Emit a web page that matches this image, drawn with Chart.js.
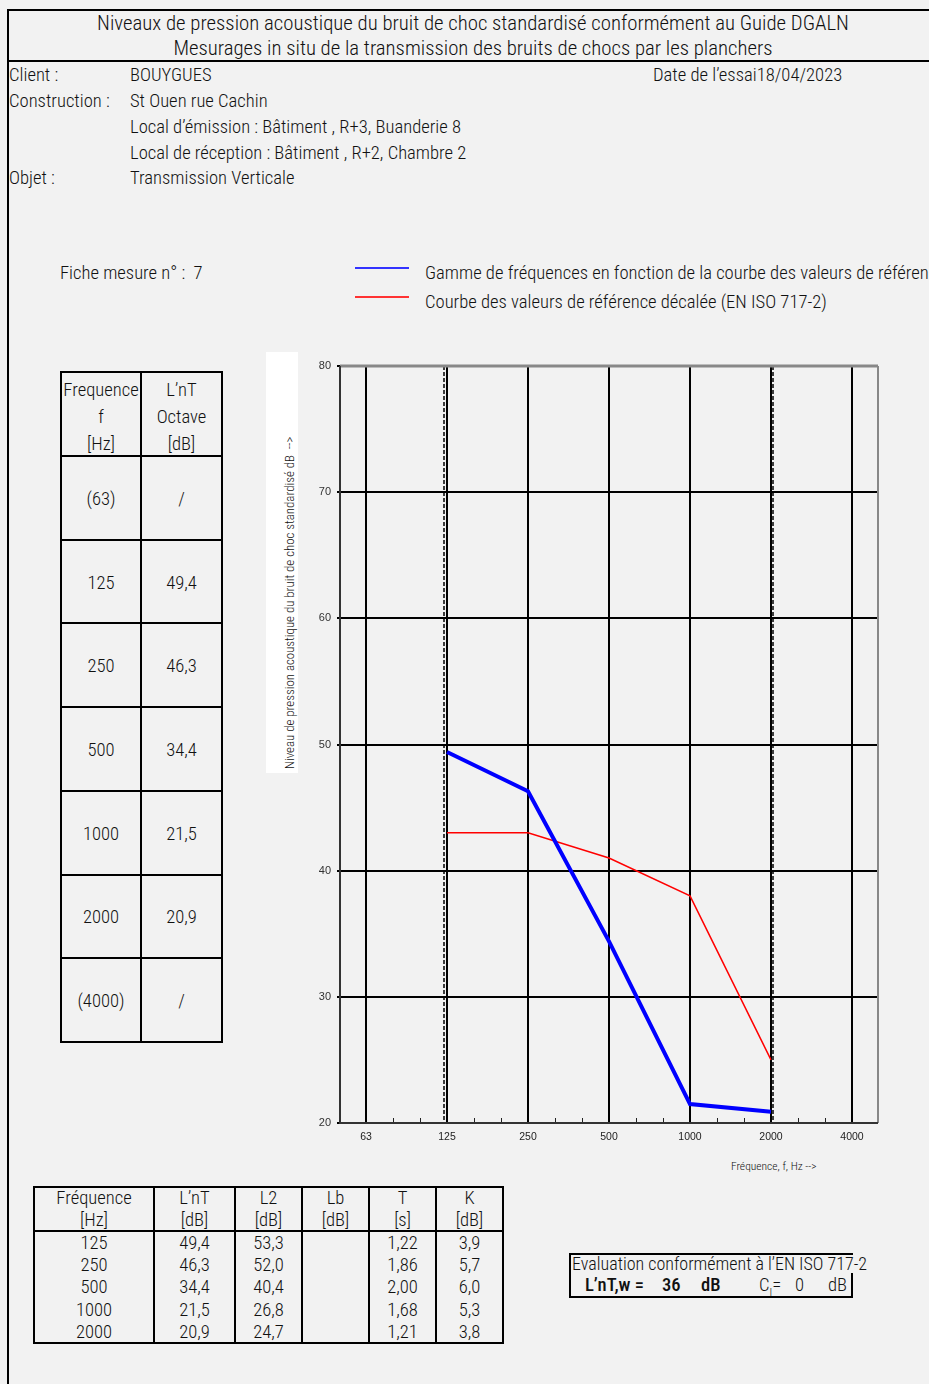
<!DOCTYPE html>
<html lang="fr">
<head>
<meta charset="utf-8">
<title>Niveaux de pression acoustique du bruit de choc</title>
<script src="https://cdn.jsdelivr.net/npm/chart.js@4/dist/chart.umd.min.js"></script>
<style>
  html, body { margin: 0; padding: 0; background: #f2f2f2; }
  body { width: 929px; height: 1384px; position: relative; overflow: hidden;
         font-family: "Roboto Condensed", "Liberation Sans Narrow", "Arial Narrow", "DejaVu Sans Condensed", sans-serif;
         font-stretch: condensed; font-weight: 300; color: #111; }
  .t { position: absolute; white-space: nowrap; font-size: 18.6px; line-height: 20px; }
  .h { font-size: 20.8px; }
  .c { transform: translateX(-50%); }
  .ln { position: absolute; background: #000; }
  .ylab { position: absolute; font-size: 12.9px; line-height: 13px; white-space: nowrap;
          transform-origin: 0 0; transform: rotate(-90deg); }
  #chartBox { position: absolute; left: 300px; top: 340px; width: 590px; height: 813px; }
</style>
</head>
<body>

<!-- frame -->
<div class="ln" style="left:7px;top:9px;width:922px;height:2px"></div>
<div class="ln" style="left:7px;top:60px;width:922px;height:2px"></div>
<div class="ln" style="left:7px;top:9px;width:2px;height:1375px"></div>

<div class="t h c" style="left:473px;top:13px">Niveaux de pression acoustique du bruit de choc standardisé conformément au Guide DGALN</div>
<div class="t h c" style="left:473px;top:38px">Mesurages in situ de la transmission des bruits de chocs par les planchers</div>

<div class="t" style="left:9px;top:65px">Client :</div>
<div class="t" style="left:130px;top:65px">BOUYGUES</div>
<div class="t" style="left:653px;top:65px">Date de l’essai18/04/2023</div>
<div class="t" style="left:9px;top:91px">Construction :</div>
<div class="t" style="left:130px;top:91px">St Ouen rue Cachin</div>
<div class="t" style="left:130px;top:117px">Local d’émission : Bâtiment , R+3, Buanderie 8</div>
<div class="t" style="left:130px;top:143px">Local de réception : Bâtiment , R+2, Chambre 2</div>
<div class="t" style="left:9px;top:168px">Objet :</div>
<div class="t" style="left:130px;top:168px">Transmission Verticale</div>

<div class="t" style="left:60px;top:263px">Fiche mesure n° :&nbsp; 7</div>

<!-- legend -->
<div id="legend"></div>

<!-- octave table (left) -->
<div id="octTable"></div>

<!-- axis titles -->
<div style="position:absolute;left:266px;top:352px;width:32px;height:421px;background:#fff"></div>
<div class="ylab" style="left:283px;top:769px">Niveau de pression acoustique du bruit de choc standardisé dB&nbsp; --&gt;</div>
<div class="t" style="left:731px;top:1158px;font-size:11.5px;line-height:16px">Fréquence, f, Hz --&gt;</div>

<div id="chartBox"><canvas id="chart" width="590" height="813"></canvas></div>

<!-- measurement table (bottom) -->
<div id="measTable"></div>

<!-- rating box -->
<div class="ln" style="left:569px;top:1253px;width:284px;height:2px"></div>
<div class="ln" style="left:569px;top:1253px;width:2px;height:45px"></div>
<div class="ln" style="left:569px;top:1296px;width:284px;height:2px"></div>
<div class="ln" style="left:851px;top:1273px;width:2px;height:25px"></div>
<div class="t" style="left:572px;top:1254px;font-size:18px">Evaluation conformément à l’EN ISO 717-2</div>
<div class="t" style="left:585px;top:1275px;font-weight:500">L’nT,w =</div>
<div class="t" style="left:662px;top:1275px;font-weight:500" id="ratingVal"></div>
<div class="t" style="left:701px;top:1275px;font-weight:500">dB</div>
<div class="t" style="left:759px;top:1275px">C<sub style="font-size:11px;line-height:0">I</sub>=</div>
<div class="t" style="left:795px;top:1275px" id="ciVal"></div>
<div class="t" style="left:828px;top:1275px">dB</div>

<script>
// Octave band centre frequencies shown on the x axis
const freqLabels = ['63', '125', '250', '500', '1000', '2000', '4000'];
// Standardised impact sound pressure level L'nT per octave (null = not measured)
const lntValues = [null, 49.4, 46.3, 34.4, 21.5, 20.9, null];
// ISO 717-2 reference curve shifted to the rating position
const refShifted = [null, 43, 43, 41, 38, 25, null];
// y axis graduations
const yTicks = [20, 30, 40, 50, 60, 70, 80];

// Measurement detail table
const measFreq = ['125', '250', '500', '1000', '2000'];
const measLnT = ['49,4', '46,3', '34,4', '21,5', '20,9'];
const measL2 = ['53,3', '52,0', '40,4', '26,8', '24,7'];
const measLb = ['', '', '', '', ''];
const measT = ['1,22', '1,86', '2,00', '1,68', '1,21'];
const measK = ['3,9', '5,7', '6,0', '5,3', '3,8'];

// Single-number rating
const ratingLnTw = 36;
const ratingCI = 0;

// Legend entries
const legendItems = [
  { text: 'Gamme de fréquences en fonction de la courbe des valeurs de référence (EN ISO 717-2)', color: '#3333ff' },
  { text: 'Courbe des valeurs de référence décalée (EN ISO 717-2)', color: '#ff3333' }
];

const fmt = v => v === null ? '/' : v.toFixed(1).replace('.', ',');

// ---- legend
(function () {
  const box = document.getElementById('legend');
  legendItems.forEach((it, i) => {
    const y = 267 + i * 29;
    box.insertAdjacentHTML('beforeend',
      `<div class="ln" style="left:355px;top:${y}px;width:54px;height:2px;background:${it.color}"></div>` +
      `<div class="t" style="left:425px;top:${y - 4}px">${it.text}</div>`);
  });
})();

// ---- left octave table
(function () {
  const box = document.getElementById('octTable');
  const x0 = 61, xm = 141, x1 = 222, yTop = 372, headH = 84, rowH = 83.7;
  let h = '';
  const nRows = freqLabels.length;
  const yBot = yTop + headH + nRows * rowH;
  [x0, xm, x1].forEach(x => {
    h += `<div class="ln" style="left:${x - 1}px;top:${yTop - 1}px;width:2px;height:${yBot - yTop + 2}px"></div>`;
  });
  h += `<div class="ln" style="left:${x0 - 1}px;top:${yTop - 1}px;width:${x1 - x0 + 2}px;height:2px"></div>`;
  for (let r = 0; r <= nRows; r++) {
    const y = Math.round(yTop + headH + r * rowH);
    h += `<div class="ln" style="left:${x0 - 1}px;top:${y - 1}px;width:${x1 - x0 + 2}px;height:2px"></div>`;
  }
  const cx0 = (x0 + xm) / 2, cx1 = (xm + x1) / 2;
  [['Frequence', 'L’nT'], ['f', 'Octave'], ['[Hz]', '[dB]']].forEach((pair, i) => {
    const y = 389 + i * 27 - 9;
    h += `<div class="t c" style="left:${cx0}px;top:${y}px">${pair[0]}</div>`;
    h += `<div class="t c" style="left:${cx1}px;top:${y}px">${pair[1]}</div>`;
  });
  freqLabels.forEach((f, i) => {
    const y = Math.round(yTop + headH + (i + 0.5) * rowH) - 9;
    const label = lntValues[i] === null ? `(${f})` : f;
    h += `<div class="t c" style="left:${cx0}px;top:${y}px">${label}</div>`;
    h += `<div class="t c" style="left:${cx1}px;top:${y}px">${fmt(lntValues[i])}</div>`;
  });
  box.innerHTML = h;
})();

// ---- bottom measurement table
(function () {
  const box = document.getElementById('measTable');
  const cols = [34, 154, 235, 302, 369, 436, 503];
  const yTop = 1187, yHead = 1231, yBot = 1343;
  let h = '';
  cols.forEach(x => {
    h += `<div class="ln" style="left:${x - 1}px;top:${yTop - 1}px;width:2px;height:${yBot - yTop + 2}px"></div>`;
  });
  [yTop, yHead, yBot].forEach(y => {
    h += `<div class="ln" style="left:${cols[0] - 1}px;top:${y - 1}px;width:${cols[6] - cols[0] + 2}px;height:2px"></div>`;
  });
  const heads = [['Fréquence', '[Hz]'], ['L’nT', '[dB]'], ['L2', '[dB]'], ['Lb', '[dB]'], ['T', '[s]'], ['K', '[dB]']];
  const colsData = [measFreq, measLnT, measL2, measLb, measT, measK];
  const rowY = [1242, 1264, 1286, 1309, 1331];
  heads.forEach((hd, c) => {
    const cx = (cols[c] + cols[c + 1]) / 2;
    h += `<div class="t c" style="left:${cx}px;top:${1197 - 9}px">${hd[0]}</div>`;
    h += `<div class="t c" style="left:${cx}px;top:${1219 - 9}px">${hd[1]}</div>`;
    colsData[c].forEach((v, r) => {
      h += `<div class="t c" style="left:${cx}px;top:${rowY[r] - 9}px">${v}</div>`;
    });
  });
  box.innerHTML = h;
})();

document.getElementById('ratingVal').textContent = ratingLnTw;
document.getElementById('ciVal').textContent = ratingCI;

// ---- chart
const toPoints = arr => arr.map((v, i) => ({ x: i, y: v })).filter(p => p.y !== null);
const measured = freqLabels.map((f, i) => lntValues[i] !== null ? i : null).filter(i => i !== null);
const rangeLo = Math.min(...measured), rangeHi = Math.max(...measured);

// draws the third-octave minor ticks, the measured-range markers and the plot frame
const decorations = {
  id: 'decorations',
  afterDatasetsDraw(chart) {
    const { ctx, chartArea: a, scales: { x } } = chart;
    ctx.save();
    // minor ticks on the frequency axis
    ctx.strokeStyle = '#222';
    ctx.lineWidth = 1;
    for (let i = 0; i < freqLabels.length - 1; i++) {
      for (const f of [1 / 3, 2 / 3]) {
        const px = Math.round(x.getPixelForValue(i + f)) + 0.5;
        ctx.beginPath(); ctx.moveTo(px, a.bottom); ctx.lineTo(px, a.bottom - 5); ctx.stroke();
      }
    }
    // dashed markers bounding the measured frequency range
    ctx.strokeStyle = '#000';
    ctx.lineWidth = 1.5;
    ctx.setLineDash([4, 2]);
    [[rangeLo, -3], [rangeHi, 2]].forEach(([v, d]) => {
      const px = x.getPixelForValue(v) + d;
      ctx.beginPath(); ctx.moveTo(px, a.top); ctx.lineTo(px, a.bottom); ctx.stroke();
    });
    ctx.setLineDash([]);
    // frame: grey top and right, dark left and bottom
    ctx.strokeStyle = '#888';
    ctx.lineWidth = 3;
    ctx.beginPath(); ctx.moveTo(a.left, a.top); ctx.lineTo(a.right, a.top); ctx.stroke();
    ctx.lineWidth = 2;
    ctx.beginPath(); ctx.moveTo(a.right, a.top); ctx.lineTo(a.right, a.bottom); ctx.stroke();
    ctx.strokeStyle = '#333';
    ctx.beginPath(); ctx.moveTo(a.left, a.top); ctx.lineTo(a.left, a.bottom); ctx.lineTo(a.right, a.bottom); ctx.stroke();
    ctx.restore();
  }
};

new Chart(document.getElementById('chart'), {
  type: 'line',
  data: {
    datasets: [
      {
        label: 'Gamme de fréquences',
        data: toPoints(lntValues),
        borderColor: '#0000ff',
        borderWidth: 4,
        pointRadius: 0,
        tension: 0,
        order: 1
      },
      {
        label: 'Courbe de référence décalée',
        data: toPoints(refShifted),
        borderColor: '#ff0000',
        borderWidth: 1.5,
        pointRadius: 0,
        tension: 0,
        order: 2
      }
    ]
  },
  options: {
    responsive: false,
    animation: false,
    devicePixelRatio: 1,
    layout: { padding: { left: 0, right: 12, top: 26, bottom: 0 } },
    plugins: { legend: { display: false }, tooltip: { enabled: false } },
    scales: {
      x: {
        type: 'linear',
        min: -26 / 81,
        max: freqLabels.length - 1 + 26 / 81,
        afterBuildTicks: s => { s.ticks = freqLabels.map((f, i) => ({ value: i })); },
        afterFit: s => { s.height = 30; },
        border: { display: false },
        grid: { color: '#000', lineWidth: 2, drawTicks: false },
        ticks: {
          padding: 8,
          color: '#222',
          font: { family: 'Liberation Sans, Arial, sans-serif', size: 10.5 },
          callback: v => freqLabels[v]
        }
      },
      y: {
        type: 'linear',
        min: yTicks[0],
        max: yTicks[yTicks.length - 1],
        afterBuildTicks: s => { s.ticks = yTicks.map(v => ({ value: v })); },
        afterFit: s => { s.width = 40; },
        border: { display: false },
        grid: { color: '#000', lineWidth: 2, tickLength: 3 },
        ticks: {
          padding: 6,
          color: '#333',
          font: { family: 'Liberation Sans, Arial, sans-serif', size: 11 }
        }
      }
    }
  },
  plugins: [decorations]
});
</script>
</body>
</html>
